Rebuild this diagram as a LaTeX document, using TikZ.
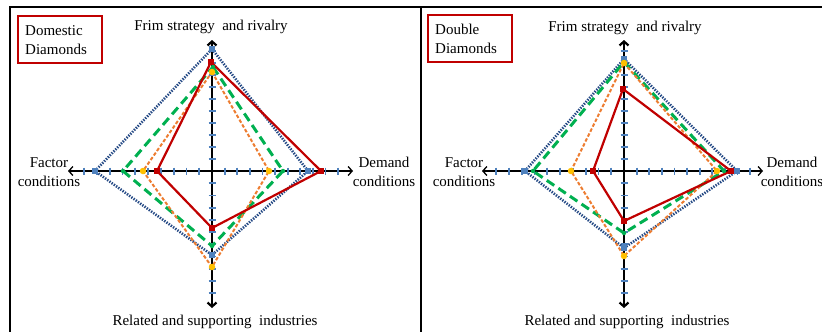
\documentclass[tikz,border=0pt]{standalone}
\usepackage{fontspec}
\setmainfont{Liberation Serif}
\usetikzlibrary{arrows.meta}
\definecolor{cred}{HTML}{C00000}
\definecolor{cblue}{HTML}{254A85}
\definecolor{cblueM}{HTML}{4F81BD}
\definecolor{cgreen}{HTML}{00B050}
\definecolor{corange}{HTML}{ED7D31}
\definecolor{cyellow}{HTML}{FFC000}
\begin{document}
\begin{tikzpicture}[x=1pt,y=-1pt,
  lbl/.style={font=\fontsize{15}{18.5}\selectfont, inner sep=0pt, align=center},
  axisline/.style={black, line width=1.3pt, {Straight Barb[length=4pt,width=9pt]}-{Straight Barb[length=4pt,width=9pt]}},
  vaxisline/.style={black, line width=2.2pt, {Straight Barb[length=4pt,width=9pt]}-{Straight Barb[length=4pt,width=9pt]}},
  tickmark/.style={cblueM, line width=1.8pt},
  sblue/.style={cblue, line width=2.6pt, dash pattern=on 1.4pt off 1.3pt, line join=round},
  sgreen/.style={cgreen, line width=3pt, dash pattern=on 9pt off 5pt, line join=miter},
  sorange/.style={corange, line width=2pt, dash pattern=on 3.5pt off 2pt, line join=miter},
  sred/.style={cred, line width=2.2pt, line join=miter},
  mblue/.style={fill=cblueM, draw=none, minimum size=6pt, inner sep=0pt, rectangle},
  mred/.style={fill=cred, draw=none, minimum size=5.5pt, inner sep=0pt, rectangle},
  myellow/.style={fill=cyellow, draw=none, minimum size=6.5pt, inner sep=0pt, circle},
  mgreen/.style={fill=cgreen, draw=none, minimum size=4.5pt, inner sep=0pt, circle},
  tagbox/.style={draw=cred, line width=2pt}
]
\useasboundingbox (0,0) rectangle (822,332);

% frame
\draw[line width=1.5pt] (10,332) -- (10,7) -- (822,7);
\draw[line width=1.5pt] (421,7) -- (421,332);

% ================= LEFT PANEL =================
\begin{scope}[shift={(212,171)}]
  \coordinate (LaxL) at (-144,0);
  \coordinate (LaxR) at (141,0);
  \coordinate (LaxT) at (0,-131);
  \coordinate (LaxB) at (0,137);
  \draw[axisline] (LaxL) -- (LaxR);
  \draw[vaxisline] (LaxT) -- (LaxB);
  \foreach \k in {1,...,10} {
    \draw[tickmark] (-12.8*\k,-3.5) -- (-12.8*\k,3.5);
    \draw[tickmark] (12.6*\k,-3.5) -- (12.6*\k,3.5);
    \draw[tickmark] (-3.5,-12*\k) -- (3.5,-12*\k);
    \draw[tickmark] (-3.5,12.2*\k) -- (3.5,12.2*\k);
  }
  % data
  \coordinate (Lbt) at (0,-122); \coordinate (Lbr) at (96,0); \coordinate (Lbb) at (0,84); \coordinate (Lbl) at (-117,0);
  \coordinate (Lgt) at (1,-104); \coordinate (Lgr) at (71,0); \coordinate (Lgb) at (0,75); \coordinate (Lgl) at (-89,0);
  \coordinate (Lot) at (0,-99); \coordinate (Lor) at (57,0); \coordinate (Lob) at (0,96); \coordinate (Lol) at (-69,0);
  \coordinate (Lrt) at (-1,-109); \coordinate (Lrr) at (109,0); \coordinate (Lrb) at (0,57); \coordinate (Lrl) at (-55,0);
  \draw[sblue] (Lbt) -- (Lbr) -- (Lbb) -- (Lbl) -- cycle;
  \draw[sgreen] (Lgt) -- (Lgr) -- (Lgb) -- (Lgl) -- cycle;
  \draw[sorange] (Lot) -- (Lor) -- (Lob) -- (Lol) -- cycle;
  \draw[sred] (Lrt) -- (Lrr) -- (Lrb) -- (Lrl) -- cycle;
  \foreach \p in {Lbt,Lbr,Lbb,Lbl} \node[mblue] at (\p) {};
  \foreach \p in {Lgt,Lgr,Lgb,Lgl} \node[mgreen] at (\p) {};
  \foreach \p in {Lot,Lor,Lob,Lol} \node[myellow] at (\p) {};
  \foreach \p in {Lrt,Lrr,Lrb,Lrl} \node[mred] at (\p) {};
\end{scope}
\node[lbl] (Ltop) at (211,27) {Frim strategy~ and rivalry};
\node[lbl] (Lleft) at (49,172) {Factor\\conditions};
\node[lbl] (Lright) at (384,172) {Demand\\conditions};
\node[lbl] (Lbot) at (215,322) {Related and supporting~ industries};
\draw[tagbox] (18,16) rectangle (102,63);
\node[lbl, anchor=west, align=left] (Ltag) at (25,40) {Domestic\\Diamonds};

% ================= RIGHT PANEL =================
\begin{scope}[shift={(624,171)}]
  \coordinate (RaxL) at (-142,0);
  \coordinate (RaxR) at (139,0);
  \coordinate (RaxT) at (0,-131);
  \coordinate (RaxB) at (0,137);
  \draw[axisline] (RaxL) -- (RaxR);
  \draw[vaxisline] (RaxT) -- (RaxB);
  \foreach \k in {1,...,10} {
    \draw[tickmark] (-12.8*\k,-3.5) -- (-12.8*\k,3.5);
    \draw[tickmark] (12.6*\k,-3.5) -- (12.6*\k,3.5);
    \draw[tickmark] (-3.5,-12*\k) -- (3.5,-12*\k);
    \draw[tickmark] (-3.5,12.2*\k) -- (3.5,12.2*\k);
  }
  \coordinate (Rbt) at (0,-112); \coordinate (Rbr) at (113,0); \coordinate (Rbb) at (0,77); \coordinate (Rbl) at (-99,0);
  \coordinate (Rgt) at (0,-109); \coordinate (Rgr) at (100,0); \coordinate (Rgb) at (0,62); \coordinate (Rgl) at (-91,0);
  \coordinate (Rot) at (0,-108); \coordinate (Ror) at (93,0); \coordinate (Rob) at (0,85); \coordinate (Rol) at (-53,0);
  \coordinate (Rrt) at (-1,-82); \coordinate (Rrr) at (107,0); \coordinate (Rrb) at (0,50); \coordinate (Rrl) at (-31,0);
  \draw[sblue] (Rbt) -- (Rbr) -- (Rbb) -- (Rbl) -- cycle;
  \draw[sgreen] (Rgt) -- (Rgr) -- (Rgb) -- (Rgl) -- cycle;
  \draw[sorange] (Rot) -- (Ror) -- (Rob) -- (Rol) -- cycle;
  \draw[sred] (Rrt) -- (Rrr) -- (Rrb) -- (Rrl) -- cycle;
  \foreach \p in {Rbt,Rbr,Rbb,Rbl} \node[mblue] at (\p) {};
  \foreach \p in {Rgt,Rgr,Rgb,Rgl} \node[mgreen] at (\p) {};
  \foreach \p in {Rot,Ror,Rob,Rol} \node[myellow] at (\p) {};
  \foreach \p in {Rrt,Rrr,Rrb,Rrl} \node[mred] at (\p) {};
\end{scope}
\node[lbl] (Rtop) at (625,28) {Frim strategy~ and rivalry};
\node[lbl] (Rleft) at (464,172) {Factor\\conditions};
\node[lbl] (Rright) at (792,172) {Demand\\conditions};
\node[lbl] (Rbot) at (627,322) {Related and supporting~ industries};
\draw[tagbox] (428,15) rectangle (512,62);
\node[lbl, anchor=west, align=left] (Rtag) at (435,39) {Double\\Diamonds};
\end{tikzpicture}
\end{document}
